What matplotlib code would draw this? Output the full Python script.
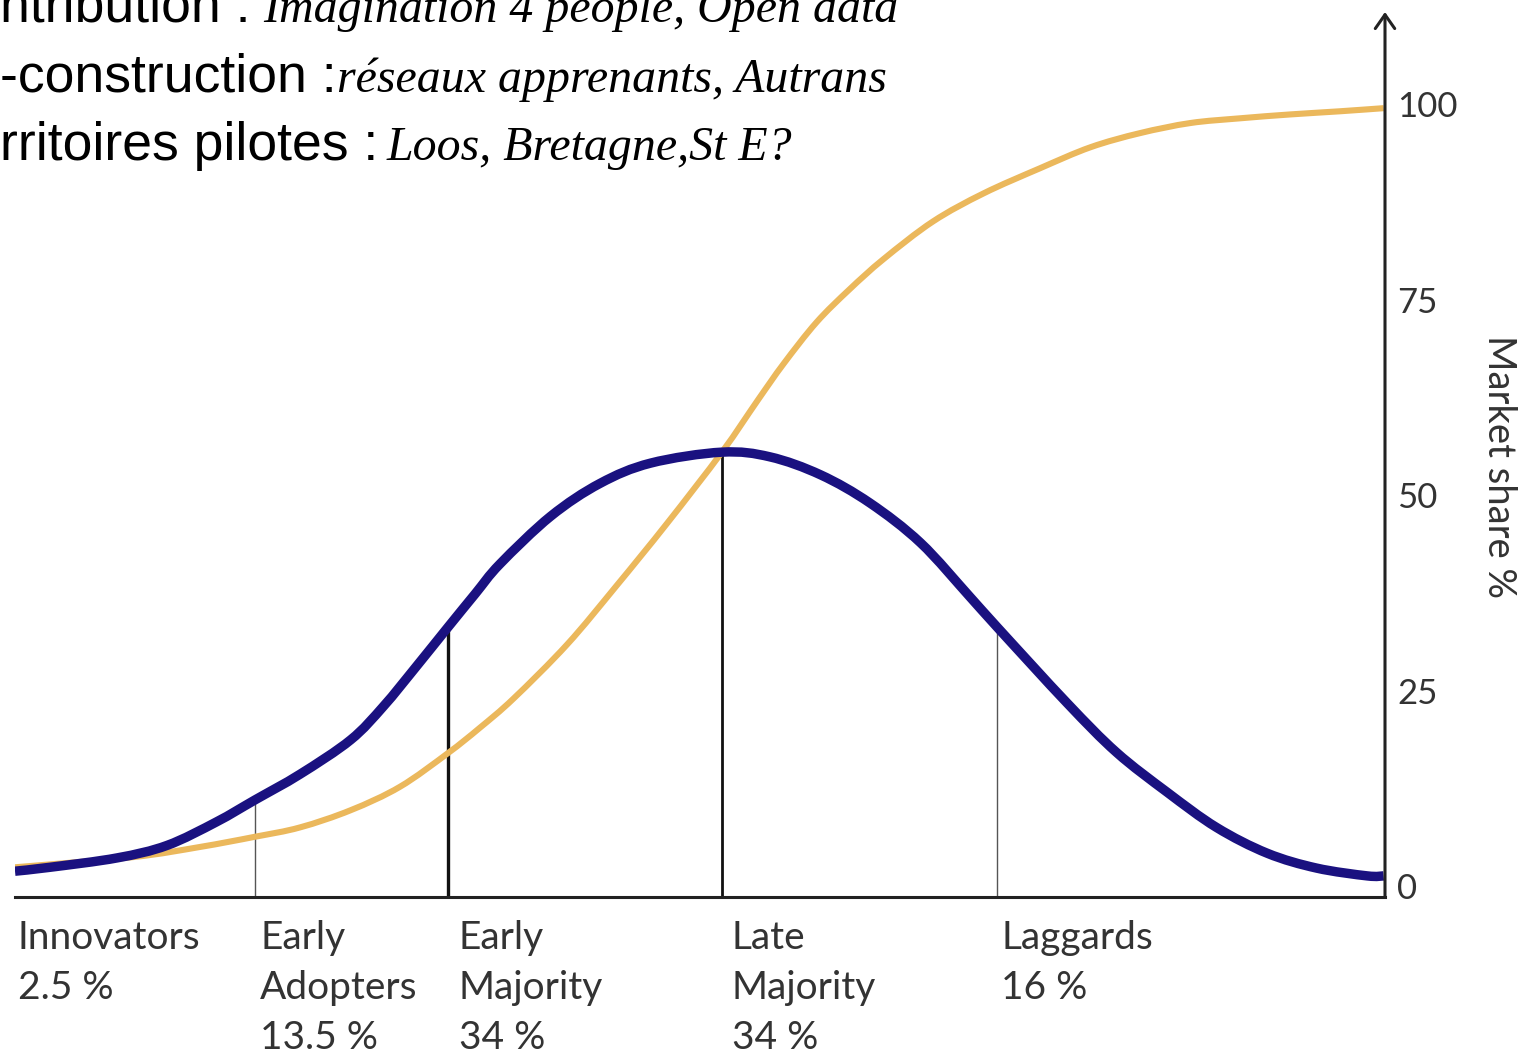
import matplotlib.pyplot as plt
from matplotlib.path import Path
from matplotlib.patches import PathPatch

# adoption curve (bell) and market share (S-curve), x runs 0..100 along the axis
bell_x = [0, 2.55, 7.45, 11.1, 14.7, 17.5, 20.8, 24.5, 26.9, 29.3, 31.6, 33.6, 35.4, 39.1,
          42.7, 46.4, 51.6, 55.1, 58.8, 62.4, 66.1, 69.7, 71.7, 76.8, 80.4, 84.1, 87.7,
          91.4, 95.0, 98.7, 99.9]
bell_y = [1.9, 2.4, 3.6, 5.2, 8.2, 11.0, 14.3, 18.7, 23.0, 28.1, 33.1, 37.4, 41.2, 47.3,
          51.5, 54.1, 55.5, 54.9, 52.6, 49.0, 43.9, 37.0, 33.1, 23.4, 17.1, 12.0, 7.5,
          4.2, 2.3, 1.3, 1.3]

share_x = [0, 8.6, 13.5, 17.5, 20.8, 24.5, 28.1, 31.6, 33.9, 36.4, 40.3, 43.9, 47.6, 51.6,
           54.2, 56.1, 58.5, 60.9, 63.4, 67.0, 70.7, 74.8, 78.5, 82.1, 85.8, 89.4, 93.1,
           96.7, 99.9]
share_y = [2.4, 3.7, 5.0, 6.3, 7.5, 9.7, 12.7, 17.0, 20.2, 24.0, 30.9, 38.4, 46.4, 55.5,
           62.1, 66.8, 72.1, 76.3, 80.2, 85.0, 88.6, 91.8, 94.5, 96.3, 97.6, 98.2, 98.7,
           99.1, 99.5]

# segment boundaries and where they meet the bell curve
bounds = [17.5, 31.6, 51.6, 71.7]
bound_tops = [11.0, 33.1, 55.5, 33.1]

groups = ["Innovators\n2.5 %", "Early\nAdopters\n13.5 %", "Early\nMajority\n34 %",
          "Late\nMajority\n34 %", "Laggards\n16 %"]
group_x = [0.2, 17.9, 32.4, 52.3, 72.0]

yticks = [0, 25, 50, 75, 100]

header = [("ntribution : ", "Imagination 4 people, Open data"),
          ("-construction :", "réseaux apprenants, Autrans"),
          ("rritoires pilotes : ", "Loos, Bretagne,St E?")]


def smooth_line(xs, ys):
    # Catmull-Rom through the read points, drawn as cubic bezier pieces
    pts = list(zip(xs, ys))
    verts = [pts[0]]
    codes = [Path.MOVETO]
    for i in range(len(pts) - 1):
        p0 = pts[i - 1] if i > 0 else pts[i]
        p1, p2 = pts[i], pts[i + 1]
        p3 = pts[i + 2] if i + 2 < len(pts) else pts[i + 1]
        c1 = (p1[0] + (p2[0] - p0[0]) / 6, p1[1] + (p2[1] - p0[1]) / 6)
        c2 = (p2[0] - (p3[0] - p1[0]) / 6, p2[1] - (p3[1] - p1[1]) / 6)
        verts += [c1, c2, p2]
        codes += [Path.CURVE4] * 3
    return Path(verts, codes)


W, H = 1524, 1058
fig = plt.figure(figsize=(W / 100, H / 100), dpi=100)
y_lo, y_hi = -1.4, 111.8
ax = fig.add_axes([15 / W, (H - 897) / H, 1370 / W, (897 - 12) / H])
ax.set_xlim(0, 100)
ax.set_ylim(y_lo, y_hi)

ax.add_patch(PathPatch(smooth_line(share_x, share_y), fill=False, edgecolor="#ebb85c",
                       lw=4.4, capstyle="butt", zorder=2))
ax.add_patch(PathPatch(smooth_line(bell_x, bell_y), fill=False, edgecolor="#1a1180",
                       lw=6.8, capstyle="butt", zorder=3))

bound_lw = [1.0, 2.4, 2.0, 1.0]
bound_col = ["#555555", "#111111", "#111111", "#555555"]
for bx, by, lw, c in zip(bounds, bound_tops, bound_lw, bound_col):
    ax.vlines(bx, y_lo, by, color=c, lw=lw, zorder=1)

# axes: bottom line, right arrow
for side in ["top", "left", "right"]:
    ax.spines[side].set_visible(False)
ax.spines["bottom"].set_color("#222222")
ax.spines["bottom"].set_linewidth(2.2)
ax.annotate("", xy=(100, y_hi), xytext=(100, y_lo),
            arrowprops=dict(arrowstyle="->,head_length=0.5,head_width=0.35",
                            lw=2.2, color="#222222", shrinkA=0, shrinkB=0,
                            mutation_scale=20),
            annotation_clip=False)

ax.set_xticks([])
ax.yaxis.tick_right()
ax.set_yticks(yticks)
ax.tick_params(axis="y", length=0, pad=9, labelsize=25, labelcolor="#333333")
for lab in ax.get_yticklabels():
    lab.set_fontfamily("Lato")

ax.text(1.083, 0.486, "Market share %", transform=ax.transAxes, rotation=270,
        ha="center", va="center", fontsize=27.5, family="Lato", color="#333333")

for gx, g in zip(group_x, groups):
    ax.text(gx, -4.4, g, ha="left", va="top", fontsize=28, family="Lato",
            color="#333333", linespacing=1.47, clip_on=False)

# header lines, partly cut off at the page edge as in the source slide
base_y = [22, 92, 160]
ital_x = [263, 337, 387]
for (plain, ital), by, ix in zip(header, base_y, ital_x):
    fig.text(0 / W, 1 - by / H, plain, ha="left", va="baseline", fontsize=38.5,
             family="Liberation Sans", color="black")
    fig.text(ix / W, 1 - by / H, ital, ha="left", va="baseline", fontsize=34.5,
             family="Liberation Serif", style="italic", color="black")

fig.savefig("out.png", dpi=100)
